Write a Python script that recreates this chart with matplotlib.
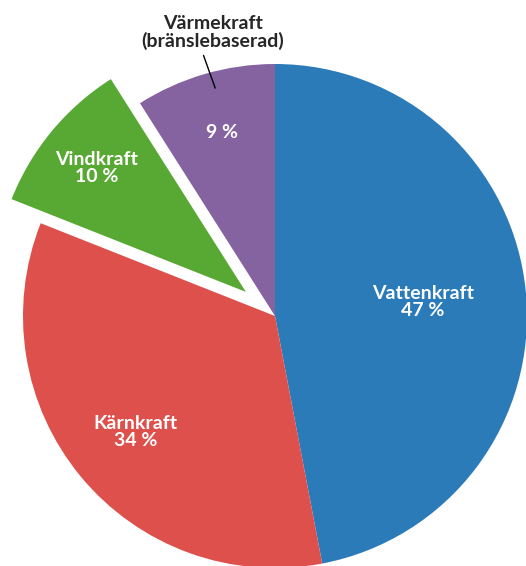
import numpy as np
import matplotlib
matplotlib.use("Agg")
import matplotlib.pyplot as plt

# Elproduktion per kraftslag
labels = ["Vattenkraft", "Kärnkraft", "Vindkraft", "Värmekraft\n(bränslebaserad)"]
values = [47, 34, 10, 9]
colors = ["#2b7bb9", "#dd504c", "#58a834", "#8562a0"]
explode = [0, 0, 0.15, 0]
inside_text = ["Vattenkraft\n47 %", "Kärnkraft\n34 %", "Vindkraft\n10 %", "9 %"]
label_radius = [0.59, 0.72, 0.77, 0.76]

W, H = 526, 566
R = 252.0          # pie radius in px
CX, CY = 275, 316  # pie centre in px (from top)

plt.rcParams["font.family"] = ["Lato", "DejaVu Sans"]
fig = plt.figure(figsize=(W / 100, H / 100), dpi=100)
ax = fig.add_axes([0, 0, 1, 1])

wedges, _ = ax.pie(values, colors=colors, explode=explode, startangle=90,
                   counterclock=False, radius=1.0,
                   wedgeprops=dict(linewidth=0))

for w, txt, r in zip(wedges, inside_text, label_radius):
    mid = np.deg2rad((w.theta1 + w.theta2) / 2)
    cx, cy = w.center
    ax.text(cx + r * np.cos(mid), cy + r * np.sin(mid), txt, color="white",
            ha="center", va="center", fontsize=14, fontweight="bold",
            linespacing=1.0)

# leader label for the small slice
ang = np.deg2rad(104.7)
ax.annotate(labels[3], xy=(0.935 * np.cos(ang), 0.935 * np.sin(ang)),
            xytext=(-0.246, 1.125), ha="center", va="center",
            fontsize=14, fontweight="bold", color="#262626", linespacing=1.0,
            arrowprops=dict(arrowstyle="-", color="black", lw=1,
                            relpos=(0.42, 0), shrinkA=2, shrinkB=0))

ax.set_xlim(-CX / R, (W - CX) / R)
ax.set_ylim(-(H - CY) / R, CY / R)
ax.set_aspect("auto")
ax.axis("off")

fig.savefig("out.png", dpi=100)
